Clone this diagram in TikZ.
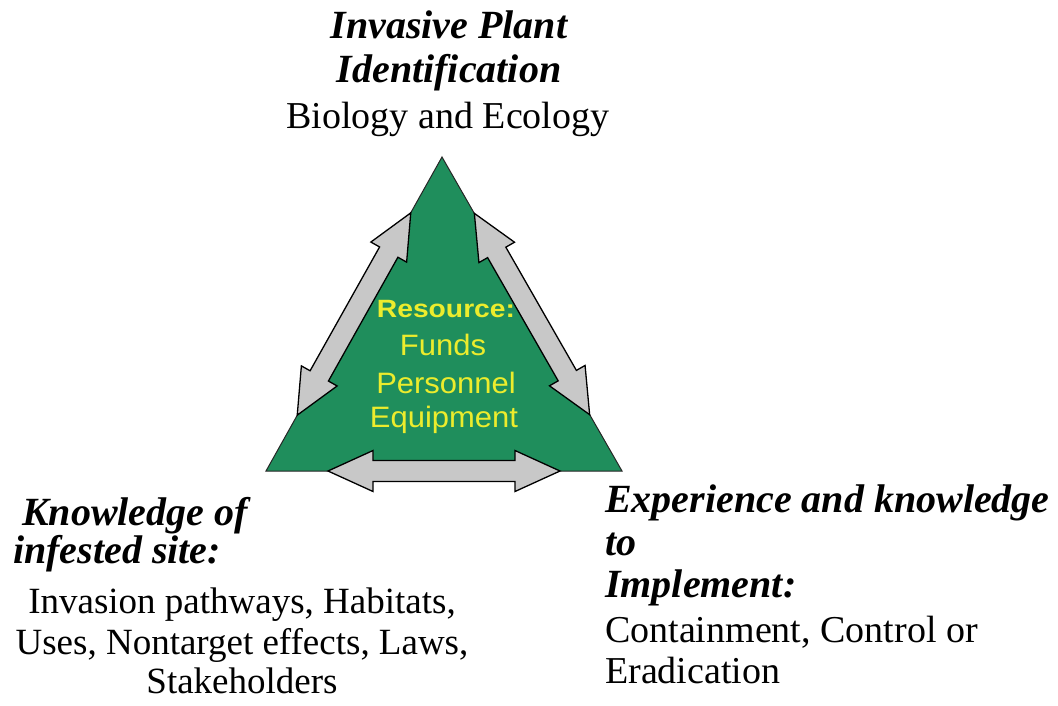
\documentclass[tikz,border=0pt]{standalone}
\usepackage{fontspec}
\setmainfont{Liberation Serif}
\newfontfamily\yfont[FakeStretch=1.05]{Liberation Sans}
\newfontfamily\ybfont[FakeStretch=1.13]{Liberation Sans Bold}
\usetikzlibrary{calc}
\definecolor{trigreen}{RGB}{31,142,92}
\definecolor{txtyellow}{RGB}{236,236,45}
\definecolor{arrgray}{RGB}{200,200,200}
\begin{document}
\begin{tikzpicture}[x=1pt,y=-1pt,
  heading/.style={inner sep=0pt, font=\fontsize{40}{48}\selectfont\bfseries\itshape},
  body/.style={inner sep=0pt, font=\fontsize{38}{46}\selectfont},
  lbody/.style={inner sep=0pt, font=\fontsize{37}{44}\selectfont},
  res/.style={inner sep=0pt, text=txtyellow, font=\yfont\fontsize{29.5}{34}\selectfont},
  resb/.style={inner sep=0pt, text=txtyellow, font=\ybfont\fontsize{25}{30}\selectfont},
  dblarrow/.style={draw=black, line width=1.3pt, fill=arrgray, line join=miter},
  tri/.style={fill=trigreen, draw=black!85, line width=1pt, line join=miter}]
\useasboundingbox[fill=white] (0,0) rectangle (1058,705);
\coordinate (T) at (442,157);
\coordinate (L) at (266,471);
\coordinate (R) at (622,471);
\draw[tri] (T) -- (L) -- (R) -- cycle;
\foreach \a/\b/\ang in {L/T/60.7, T/R/-60.2, L/R/0}{
  \begin{scope}[shift={($(\a)!0.5!(\b)$)}, rotate=\ang]
    \draw[dblarrow] (-116,0) -- (-71,20.5) -- (-71,10.5) -- (71,10.5) -- (71,20.5)
      -- (116,0) -- (71,-20.5) -- (71,-10.5) -- (-71,-10.5) -- (-71,-20.5) -- cycle;
  \end{scope}
}
% top
\node[heading, anchor=base] (t1) at (449,38) {Invasive Plant};
\node[heading, anchor=base] (t2) at (449,82) {Identification};
\node[body, anchor=base] (t3) at (448,128) {Biology and Ecology};
% left
\node[heading, anchor=base west] (l1) at (22,525) {Knowledge of};
\node[heading, anchor=base west] (l2) at (13,563) {infested site:};
\node[lbody, anchor=base] (l3) at (242,613) {Invasion pathways, Habitats,};
\node[lbody, anchor=base] (l4) at (242,654) {Uses, Nontarget effects, Laws,};
\node[lbody, anchor=base] (l5) at (242,693) {Stakeholders};
% right
\node[heading, anchor=base west] (r1) at (605,512) {Experience and knowledge};
\node[heading, anchor=base west] (r2) at (605,555) {to};
\node[heading, anchor=base west] (r3) at (605,597) {Implement:};
\node[body, anchor=base west] (r4) at (605,642) {Containment, Control or};
\node[body, anchor=base west] (r5) at (605,683) {Eradication};
% center
\node[resb, anchor=base] (c1) at (446,317) {Resource:};
\node[res, anchor=base] (c2) at (443,355) {Funds};
\node[res, anchor=base] (c3) at (446,393) {Personnel};
\node[res, anchor=base] (c4) at (444,427) {Equipment};
\end{tikzpicture}
\end{document}
